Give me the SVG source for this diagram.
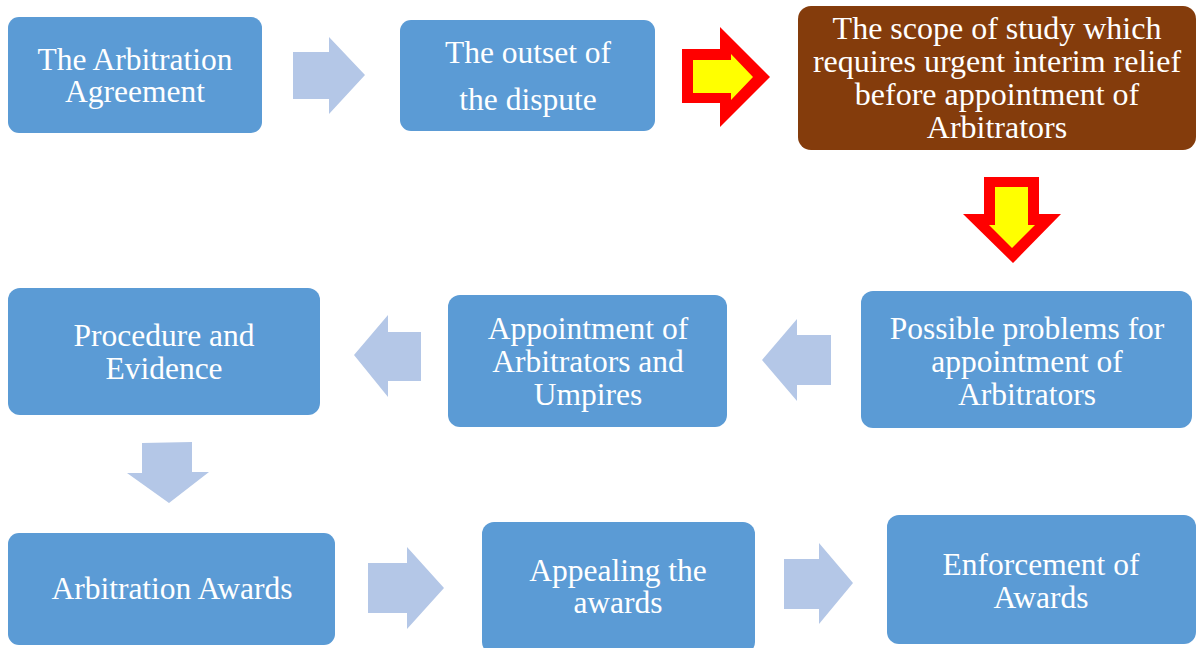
<svg xmlns="http://www.w3.org/2000/svg" width="1200" height="648" viewBox="0 0 1200 648">
<style>
.box{fill:#5B9BD5;}
.brown{fill:#843C0C;}
.t{font-family:"Liberation Serif","Times New Roman",serif;font-size:31.5px;fill:#FFFFFF;text-anchor:middle;}
.tb{font-size:32px;}
.la{fill:#B4C7E7;}
.ra{fill:#FF0000;}
.ya{fill:#FFFF00;}
</style>
<rect width="1200" height="648" fill="#FFFFFF"/>
<g id="connectors">
<polygon class="la" points="293,52 329,52 329,37 365,75 329,114 329,99 293,99"/>
<g id="red-right">
<polygon class="ra" points="682,49 720,49 720,27 770,77 720,127 720,103 682,103"/>
<polygon class="ya" points="693,60 731,60 731,54 753,77 731,100 731,93 693,93"/>
</g>
<g id="red-down">
<polygon class="ra" points="984,177 1039,177 1039,214 1061,214 1013,263 963,214 984,214"/>
<polygon class="ya" points="995,187 1028,187 1028,225 1035,225 1012,248 989,225 995,225"/>
</g>
<polygon class="la" points="831,335 797,335 797,319 762,360 797,401 797,385 831,385"/>
<polygon class="la" points="421,332 388,332 388,315 354,355 388,397 388,381 421,381"/>
<polygon class="la" points="142,443 192,442 192,472 209,472 169,503 127,473 142,473"/>
<polygon class="la" points="368,563 407,563 407,547 444,588 407,629 407,613 368,613"/>
<polygon class="la" points="784,559 819,559 819,543 853,583 819,624 819,609 784,609"/>
</g>
<g id="n1">
<rect class="box" x="8" y="17" width="254" height="116" rx="11"/>
<text class="t" x="135" y="70">The Arbitration</text>
<text class="t" x="135" y="102">Agreement</text>
</g>
<g id="n2">
<rect class="box" x="400" y="20" width="255" height="111" rx="11"/>
<text class="t" x="528" y="63">The outset of</text>
<text class="t" x="528" y="110">the dispute</text>
</g>
<g id="n3">
<rect class="brown" x="798" y="6" width="398" height="144" rx="13"/>
<text class="t tb" x="997" y="39">The scope of study which</text>
<text class="t tb" x="997" y="72">requires urgent interim relief</text>
<text class="t tb" x="997" y="105">before appointment of</text>
<text class="t tb" x="997" y="138">Arbitrators</text>
</g>
<g id="n4">
<rect class="box" x="861" y="291" width="331" height="137" rx="12"/>
<text class="t" x="1027" y="339">Possible problems for</text>
<text class="t" x="1027" y="372">appointment of</text>
<text class="t" x="1027" y="405">Arbitrators</text>
</g>
<g id="n5">
<rect class="box" x="448" y="295" width="279" height="132" rx="12"/>
<text class="t" x="588" y="339">Appointment of</text>
<text class="t" x="588" y="372">Arbitrators and</text>
<text class="t" x="588" y="405">Umpires</text>
</g>
<g id="n6">
<rect class="box" x="8" y="288" width="312" height="127" rx="12"/>
<text class="t" x="164" y="346">Procedure and</text>
<text class="t" x="164" y="379">Evidence</text>
</g>
<g id="n7">
<rect class="box" x="8" y="533" width="327" height="112" rx="11"/>
<text class="t" x="172" y="599">Arbitration Awards</text>
</g>
<g id="n8">
<rect class="box" x="482" y="522" width="273" height="132" rx="12"/>
<text class="t" x="618" y="581">Appealing the</text>
<text class="t" x="618" y="613">awards</text>
</g>
<g id="n9">
<rect class="box" x="887" y="515" width="309" height="129" rx="12"/>
<text class="t" x="1041" y="575">Enforcement of</text>
<text class="t" x="1041" y="608">Awards</text>
</g>
</svg>
